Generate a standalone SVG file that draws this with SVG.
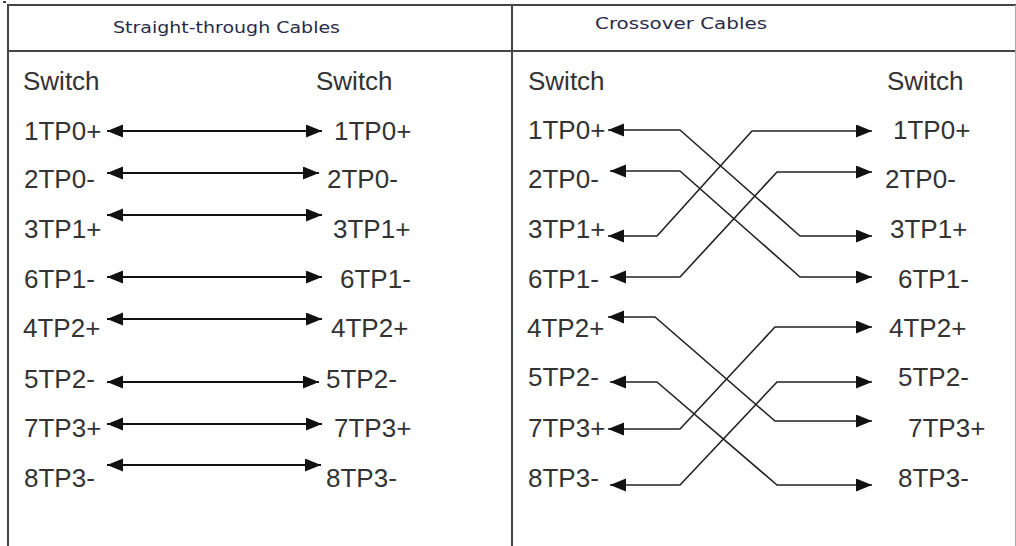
<svg xmlns="http://www.w3.org/2000/svg" width="1016" height="546" viewBox="0 0 1016 546">
<style>
.frame{stroke:#444;stroke-width:2;fill:none}
.frame-light{stroke:#aaa;stroke-width:1;fill:none}
.title{font-family:"DejaVu Sans","Liberation Sans",sans-serif;font-size:15px;fill:#2a2a4a}
.lbl{font-family:"Liberation Sans",Arial,sans-serif;font-size:26px;fill:#333}
.st{stroke:#111;stroke-width:2;fill:none;marker-start:url(#ah);marker-end:url(#ah)}
.cx{stroke:#222;stroke-width:1.6;fill:none;stroke-linejoin:round;marker-start:url(#ah);marker-end:url(#ah)}
</style>
<defs>
<marker id="ah" markerUnits="userSpaceOnUse" markerWidth="18" markerHeight="14" refX="16" refY="6.5" orient="auto-start-reverse">
<path d="M0,0 L16,6.5 L0,13 z" fill="#111"/>
</marker>
</defs>
<rect width="1016" height="546" fill="#fff"/>
<g id="frame">
<rect x="3" y="1" width="3" height="2" fill="#444"/>
<line class="frame" x1="7" y1="5" x2="1016" y2="5"/>
<line class="frame" x1="7" y1="51" x2="1016" y2="51"/>
<line class="frame" x1="8" y1="4" x2="8" y2="546"/>
<line class="frame" x1="512" y1="4" x2="512" y2="546"/>
<line class="frame-light" x1="1015.5" y1="5" x2="1015.5" y2="546"/>
</g>
<g id="title-straight"><text class="title" x="113" y="33" textLength="227" lengthAdjust="spacingAndGlyphs">Straight-through Cables</text></g>
<g id="title-crossover"><text class="title" x="595" y="29" textLength="172" lengthAdjust="spacingAndGlyphs">Crossover Cables</text></g>
<g id="straight-left">
<text class="lbl" x="23" y="90">Switch</text>
<text class="lbl" x="24" y="140">1TP0+</text>
<text class="lbl" x="24" y="188">2TP0-</text>
<text class="lbl" x="24" y="238">3TP1+</text>
<text class="lbl" x="24" y="288">6TP1-</text>
<text class="lbl" x="23" y="337">4TP2+</text>
<text class="lbl" x="24" y="388">5TP2-</text>
<text class="lbl" x="24" y="437">7TP3+</text>
<text class="lbl" x="24" y="487">8TP3-</text>
</g>
<g id="straight-right">
<text class="lbl" x="316" y="90">Switch</text>
<text class="lbl" x="334" y="140">1TP0+</text>
<text class="lbl" x="327" y="188">2TP0-</text>
<text class="lbl" x="333" y="238">3TP1+</text>
<text class="lbl" x="340" y="288">6TP1-</text>
<text class="lbl" x="331" y="337">4TP2+</text>
<text class="lbl" x="326" y="388">5TP2-</text>
<text class="lbl" x="334" y="437">7TP3+</text>
<text class="lbl" x="326" y="487">8TP3-</text>
</g>
<g id="cross-left">
<text class="lbl" x="528" y="90">Switch</text>
<text class="lbl" x="528" y="139">1TP0+</text>
<text class="lbl" x="528" y="188">2TP0-</text>
<text class="lbl" x="528" y="238">3TP1+</text>
<text class="lbl" x="528" y="288">6TP1-</text>
<text class="lbl" x="527" y="337">4TP2+</text>
<text class="lbl" x="528" y="386">5TP2-</text>
<text class="lbl" x="528" y="437">7TP3+</text>
<text class="lbl" x="528" y="487">8TP3-</text>
</g>
<g id="cross-right">
<text class="lbl" x="887" y="90">Switch</text>
<text class="lbl" x="893" y="139">1TP0+</text>
<text class="lbl" x="885" y="188">2TP0-</text>
<text class="lbl" x="890" y="238">3TP1+</text>
<text class="lbl" x="898" y="288">6TP1-</text>
<text class="lbl" x="889" y="337">4TP2+</text>
<text class="lbl" x="898" y="386">5TP2-</text>
<text class="lbl" x="908" y="437">7TP3+</text>
<text class="lbl" x="898" y="487">8TP3-</text>
</g>
<g id="connectors">
<line class="st" x1="107" y1="131" x2="322" y2="131"/>
<line class="st" x1="107" y1="173" x2="319" y2="173"/>
<line class="st" x1="107" y1="215" x2="322" y2="215"/>
<line class="st" x1="107" y1="277" x2="322" y2="277"/>
<line class="st" x1="107" y1="319" x2="322" y2="319"/>
<line class="st" x1="107" y1="382" x2="319" y2="382"/>
<line class="st" x1="107" y1="424" x2="322" y2="424"/>
<line class="st" x1="107" y1="465" x2="321" y2="465"/>
<polyline class="cx" points="608,130 680,130 800,236 872,236"/>
<polyline class="cx" points="610,171 680,171 800,277 872,277"/>
<polyline class="cx" points="608,236 657,236 752,131 872,131"/>
<polyline class="cx" points="610,277 680,277 777,172 872,172"/>
<polyline class="cx" points="608,317 655,317 775,421 872,421"/>
<polyline class="cx" points="608,429 680,429 775,327 872,327"/>
<polyline class="cx" points="610,382 657,382 777,485 872,485"/>
<polyline class="cx" points="610,485 680,485 777,382 872,382"/>
</g>
</svg>
